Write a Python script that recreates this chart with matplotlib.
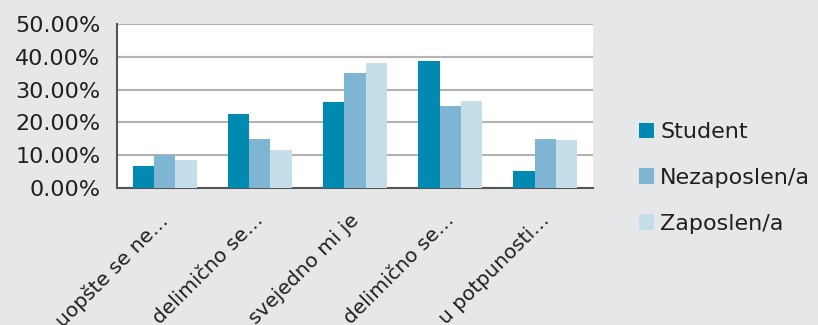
import matplotlib
matplotlib.use("Agg")
import matplotlib.pyplot as plt
from matplotlib.transforms import ScaledTranslation
import numpy as np

categories = ["uopšte se ne…", "delimično se…", "svejedno mi je", "delimično se…", "u potpunosti…"]
series_names = ["Student", "Nezaposlen/a", "Zaposlen/a"]
student = [6.8, 22.7, 26.2, 38.6, 5.1]
nezaposlen = [10.0, 14.8, 35.0, 24.9, 14.8]
zaposlen = [8.5, 11.6, 38.2, 26.4, 14.5]
colors = ["#0089B1", "#7DB5D2", "#C6DEE9"]
y_ticks = [0, 10, 20, 30, 40, 50]

plt.rcParams['font.family'] = ['DejaVu Sans']
text_color = "#231F20"
fs = 16

bg = "#E6E7E9"
fig = plt.figure(figsize=(8.18, 3.25), dpi=100, facecolor=bg)
ax = fig.add_axes([117/818, 1 - 188/325, (593-117)/818, (188-24)/325])
ax.set_facecolor("white")

x = np.arange(len(categories))
w = 0.224
for i, (vals, name) in enumerate(zip([student, nezaposlen, zaposlen], series_names)):
    ax.bar(x + (i - 1) * w, vals, width=w, color=colors[i], label=name, zorder=3)

ax.set_xlim(-0.5, len(categories) - 0.5)
ax.set_ylim(0, 50)
ax.set_yticks(y_ticks)
ax.set_yticklabels([f"{v:.2f}%" for v in y_ticks], fontsize=fs, color=text_color)
ax.yaxis.grid(True, color="#B3B3B3", linewidth=1.5, zorder=0)
ax.set_xticks(x)
ax.set_xticklabels(categories, rotation=45, ha="right", rotation_mode="anchor",
                   fontsize=14.5, color=text_color)
ax.tick_params(axis="y", length=0, pad=12)
ax.tick_params(axis="x", length=0, pad=16)
for lbl in ax.get_xticklabels():
    lbl.set_transform(lbl.get_transform() + ScaledTranslation(-6/100, 0, fig.dpi_scale_trans))

for s in ["top", "right"]:
    ax.spines[s].set_visible(False)
for s in ["left", "bottom"]:
    ax.spines[s].set_color("#555555")
    ax.spines[s].set_linewidth(1.5)

leg = fig.legend(loc="center left", bbox_to_anchor=(630/818, 1 - 178/325),
                 frameon=False, fontsize=fs, handlelength=0.7, handleheight=0.7,
                 handletextpad=0.25, labelspacing=1.15, borderaxespad=0)
for t in leg.get_texts():
    t.set_color(text_color)

fig.savefig("out.png", dpi=100, facecolor=bg)
